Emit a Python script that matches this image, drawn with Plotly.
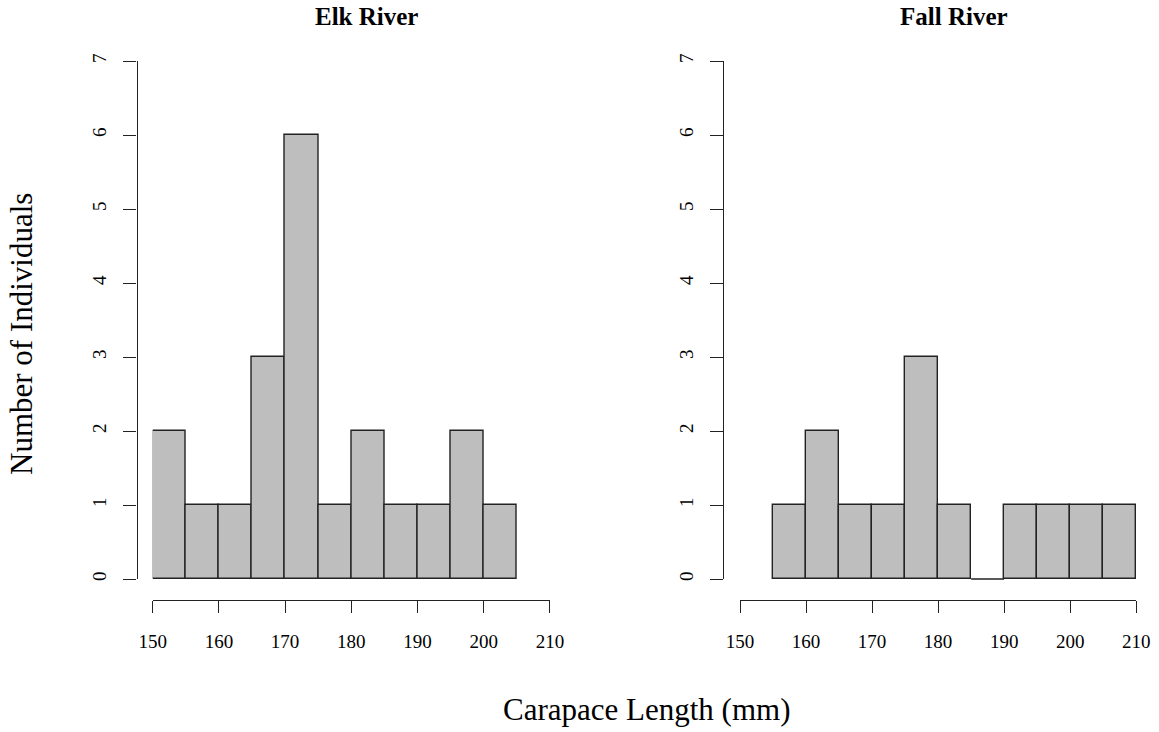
import plotly.graph_objects as go

# ---- data (histogram counts, 5 mm bins) ----
bin_edges = [150, 155, 160, 165, 170, 175, 180, 185, 190, 195, 200, 205, 210]
elk_counts = [2, 1, 1, 3, 6, 1, 2, 1, 1, 2, 1, None]   # last bin not present (hist ends at 205)
fall_counts = [None, 1, 2, 1, 1, 3, 1, 0, 1, 1, 1, 1]  # first bin not present (hist starts at 155)
panel_titles = ["Elk River", "Fall River"]
x_ticks = [150, 160, 170, 180, 190, 200, 210]
y_ticks = [0, 1, 2, 3, 4, 5, 6, 7]
x_title = "Carapace Length (mm)"
y_title = "Number of Individuals"

W, H = 1159, 732
FONT = "Liberation Serif, Times New Roman, serif"
FILL = "#BEBEBE"
INK = "#222222"


def fx(p):
    return p / W


def fy(p):
    return 1 - p / H


y_top, y_zero, x_axis_y = 61.0, 579.0, 600.0
px_per_unit = (y_zero - y_top) / 7.0
pad_px = 10.0

fig = go.Figure()

panels = [
    dict(counts=elk_counts, xa="x", ya="y", za=("x3", "y3"), x0=152.7, x1=549.9, yaxis_pos=136.5),
    dict(counts=fall_counts, xa="x2", ya="y2", za=("x4", "y4"), x0=740.0, x1=1136.2, yaxis_pos=723.3),
]

for p in panels:
    centers, heights, widths = [], [], []
    zx, zy = [], []
    for i, c in enumerate(p["counts"]):
        if c is None:
            continue
        lo, hi = bin_edges[i], bin_edges[i + 1]
        if c == 0:
            zx += [lo, hi, None]
            zy += [0, 0, None]
            continue
        centers.append((lo + hi) / 2)
        heights.append(c)
        widths.append(hi - lo)
    fig.add_trace(go.Bar(
        x=centers, y=heights, width=widths,
        marker=dict(color=FILL, line=dict(color=INK, width=1.4)),
        xaxis=p["xa"], yaxis=p["ya"], showlegend=False, hoverinfo="skip",
    ))
    fig.add_trace(go.Scatter(
        x=zx if zx else [None], y=zy if zy else [None], mode="lines",
        line=dict(color=INK, width=1.4),
        xaxis=p["za"][0], yaxis=p["za"][1], showlegend=False, hoverinfo="skip",
    ))

axis_common_x = dict(
    range=[150, 210], tickvals=x_ticks, ticks="outside", ticklen=12, tickwidth=1.4,
    tickcolor=INK, showline=True, linecolor=INK, linewidth=1.4, showgrid=False,
    zeroline=False, anchor="free", position=fy(x_axis_y), automargin=False,
    tickfont=dict(family=FONT, size=19, color="black"), ticklabelstandoff=12,
)
axis_common_y = dict(
    range=[0, 7], tickvals=y_ticks, ticks="outside", ticklen=13, tickwidth=1.4,
    tickcolor=INK, showline=True, linecolor=INK, linewidth=1.4, showgrid=False,
    zeroline=False, anchor="free", domain=[fy(y_zero), fy(y_top)], automargin=False,
    tickfont=dict(family=FONT, size=19, color="black"), tickangle=-90,
    ticklabelstandoff=10,
)
hidden = dict(visible=False, showgrid=False, zeroline=False, automargin=False)

fig.update_layout(
    width=W, height=H,
    margin=dict(l=0, r=0, t=0, b=0, autoexpand=False),
    paper_bgcolor="white", plot_bgcolor="rgba(0,0,0,0)",
    bargap=0,
    xaxis=dict(domain=[fx(panels[0]["x0"]), fx(panels[0]["x1"])], **axis_common_x),
    xaxis2=dict(domain=[fx(panels[1]["x0"]), fx(panels[1]["x1"])], **axis_common_x),
    yaxis=dict(position=fx(panels[0]["yaxis_pos"]), **axis_common_y),
    yaxis2=dict(position=fx(panels[1]["yaxis_pos"]), **axis_common_y),
    xaxis3=dict(domain=[fx(panels[0]["x0"]), fx(panels[0]["x1"])], range=[150, 210],
                anchor="y3", **hidden),
    yaxis3=dict(domain=[fy(y_zero + pad_px), fy(y_top)], range=[-pad_px / px_per_unit, 7],
                anchor="x3", **hidden),
    xaxis4=dict(domain=[fx(panels[1]["x0"]), fx(panels[1]["x1"])], range=[150, 210],
                anchor="y4", **hidden),
    yaxis4=dict(domain=[fy(y_zero + pad_px), fy(y_top)], range=[-pad_px / px_per_unit, 7],
                anchor="x4", **hidden),
    annotations=[
        dict(text="<b>%s</b>" % panel_titles[0], x=fx(366), y=fy(17), xref="paper", yref="paper",
             showarrow=False, xanchor="center", yanchor="middle",
             font=dict(family=FONT, size=25, color="black")),
        dict(text="<b>%s</b>" % panel_titles[1], x=fx(954), y=fy(17), xref="paper", yref="paper",
             showarrow=False, xanchor="center", yanchor="middle",
             font=dict(family=FONT, size=25, color="black")),
        dict(text=x_title, x=fx(646.5), y=fy(709), xref="paper", yref="paper",
             showarrow=False, xanchor="center", yanchor="middle",
             font=dict(family=FONT, size=31, color="black")),
        dict(text=y_title, x=fx(22), y=fy(334), xref="paper", yref="paper",
             showarrow=False, xanchor="center", yanchor="middle", textangle=-90,
             font=dict(family=FONT, size=31, color="black")),
    ],
)

fig.write_html("out.html")
